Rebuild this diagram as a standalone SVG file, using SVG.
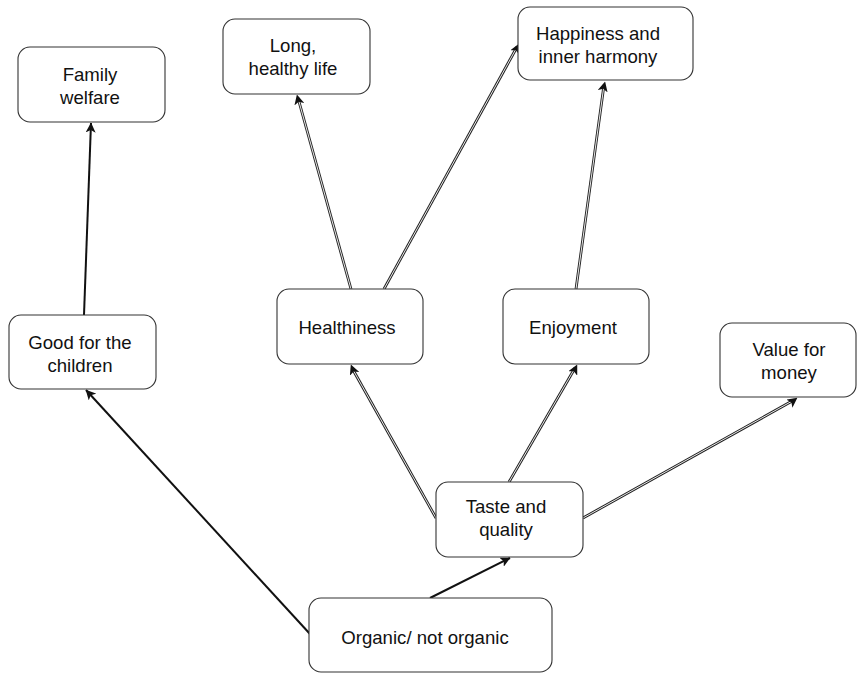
<svg xmlns="http://www.w3.org/2000/svg" width="858" height="673" viewBox="0 0 858 673">
  <style>
    .box { fill: #ffffff; stroke: #333333; stroke-width: 1.1; }
    .lbl { font-family: "Liberation Sans", Arial, sans-serif; font-size: 18.6px; fill: #111111; text-anchor: middle; }
    .solid { stroke: #111111; stroke-width: 2; fill: none; }
    .dblo { stroke: #222222; stroke-width: 2.8; fill: none; }
    .dbli { stroke: #ffffff; stroke-width: 0.9; fill: none; }
  </style>
  <defs>
    <marker id="arrow" viewBox="0 0 10 10" refX="9.5" refY="5" markerWidth="10" markerHeight="10" markerUnits="userSpaceOnUse" orient="auto">
      <path d="M0,0 L10,5 L0,10 L2.5,5 Z" fill="#111111"/>
    </marker>
  </defs>
  <rect width="858" height="673" fill="#ffffff"/>

  <g id="connectors">
    <!-- Good for the children -> Family welfare -->
    <line class="solid" x1="84" y1="315" x2="91" y2="123" marker-end="url(#arrow)"/>
    <!-- Organic -> Good for the children -->
    <line class="solid" x1="310" y1="634" x2="86" y2="390" marker-end="url(#arrow)"/>
    <!-- Organic -> Taste and quality -->
    <line class="solid" x1="430" y1="598" x2="510" y2="558" marker-end="url(#arrow)"/>
    <!-- Taste and quality -> Healthiness -->
    <line class="dblo" x1="436" y1="518" x2="352" y2="368"/>
    <line class="dbli" x1="436" y1="518" x2="352" y2="368"/>
    <line x1="353" y1="370" x2="351" y2="365" stroke="none" marker-end="url(#arrow)"/>
    <!-- Taste and quality -> Enjoyment -->
    <line class="dblo" x1="509" y1="482" x2="575" y2="368"/>
    <line class="dbli" x1="509" y1="482" x2="575" y2="368"/>
    <line x1="575" y1="369" x2="577" y2="365" stroke="none" marker-end="url(#arrow)"/>
    <!-- Taste and quality -> Value for money -->
    <line class="dblo" x1="583" y1="518" x2="794" y2="400"/>
    <line class="dbli" x1="583" y1="518" x2="794" y2="400"/>
    <line x1="793" y1="401" x2="797" y2="398" stroke="none" marker-end="url(#arrow)"/>
    <!-- Healthiness -> Long, healthy life -->
    <line class="dblo" x1="351" y1="289" x2="298" y2="98"/>
    <line class="dbli" x1="351" y1="289" x2="298" y2="98"/>
    <line x1="298" y1="99" x2="297" y2="95" stroke="none" marker-end="url(#arrow)"/>
    <!-- Healthiness -> Happiness and inner harmony -->
    <line class="dblo" x1="384" y1="289" x2="517" y2="47"/>
    <line class="dbli" x1="384" y1="289" x2="517" y2="47"/>
    <line x1="517" y1="48" x2="519" y2="44" stroke="none" marker-end="url(#arrow)"/>
    <!-- Enjoyment -> Happiness and inner harmony -->
    <line class="dblo" x1="576" y1="289" x2="604" y2="85"/>
    <line class="dbli" x1="576" y1="289" x2="604" y2="85"/>
    <line x1="604" y1="86" x2="605" y2="82" stroke="none" marker-end="url(#arrow)"/>
  </g>

  <g id="family-welfare">
    <rect class="box" x="18" y="47" width="147" height="75" rx="12"/>
    <text class="lbl" x="90" y="81">Family</text>
    <text class="lbl" x="90" y="104">welfare</text>
  </g>

  <g id="long-healthy-life">
    <rect class="box" x="223" y="19" width="147" height="75" rx="12"/>
    <text class="lbl" x="293" y="52">Long,</text>
    <text class="lbl" x="293" y="75">healthy life</text>
  </g>

  <g id="happiness">
    <rect class="box" x="518" y="7" width="175" height="73" rx="12"/>
    <text class="lbl" x="598" y="40">Happiness and</text>
    <text class="lbl" x="598" y="63">inner harmony</text>
  </g>

  <g id="good-for-children">
    <rect class="box" x="9" y="315" width="147" height="74" rx="12"/>
    <text class="lbl" x="80" y="349">Good for the</text>
    <text class="lbl" x="80" y="372">children</text>
  </g>

  <g id="healthiness">
    <rect class="box" x="277" y="289" width="146" height="75" rx="12"/>
    <text class="lbl" x="347" y="334">Healthiness</text>
  </g>

  <g id="enjoyment">
    <rect class="box" x="503" y="289" width="146" height="75" rx="12"/>
    <text class="lbl" x="573" y="334">Enjoyment</text>
  </g>

  <g id="value-for-money">
    <rect class="box" x="720" y="323" width="136" height="74" rx="12"/>
    <text class="lbl" x="789" y="356">Value for</text>
    <text class="lbl" x="789" y="379">money</text>
  </g>

  <g id="taste-quality">
    <rect class="box" x="436" y="482" width="147" height="75" rx="12"/>
    <text class="lbl" x="506" y="513">Taste and</text>
    <text class="lbl" x="506" y="536">quality</text>
  </g>

  <g id="organic">
    <rect class="box" x="309" y="598" width="243" height="74" rx="12"/>
    <text class="lbl" x="425" y="644">Organic/ not organic</text>
  </g>
</svg>
